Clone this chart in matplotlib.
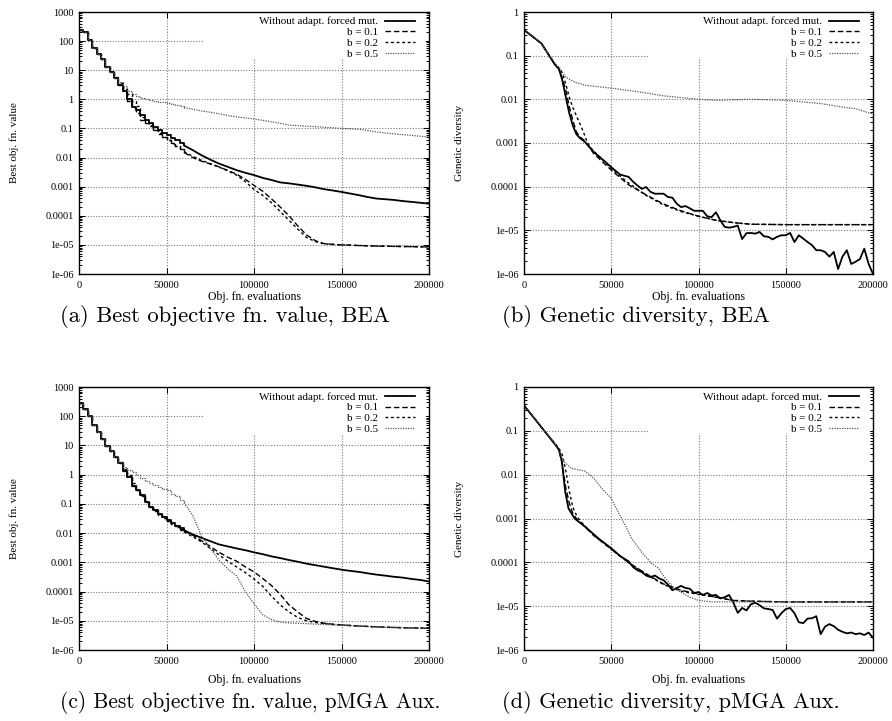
import matplotlib
matplotlib.use("Agg")
import matplotlib.pyplot as plt
from matplotlib.ticker import FixedLocator, FixedFormatter, LogLocator, NullFormatter
from matplotlib.patches import Rectangle

# ---------------- data ----------------
labels = ["Without adapt. forced mut.", "b = 0.1", "b = 0.2", "b = 0.5"]
x_ticks = [0, 50000, 100000, 150000, 200000]
x_ticklabels = ["0", "50000", "100000", "150000", "200000"]
obj_ticks = [1000, 100, 10, 1, 0.1, 0.01, 0.001, 0.0001, 1e-5, 1e-6]
obj_ticklabels = ["1000", "100", "10", "1", "0.1", "0.01", "0.001", "0.0001", "1e-05", "1e-06"]
div_ticks = [1, 0.1, 0.01, 0.001, 0.0001, 1e-5, 1e-6]
div_ticklabels = ["1", "0.1", "0.01", "0.001", "0.0001", "1e-05", "1e-06"]

x_obj = list(range(0, 60001, 2500)) + list(range(65000, 200001, 5000))

a_without = [250, 200, 110, 60, 35, 25, 13, 9, 5.5, 3.2,
             2.0, 1.0, 0.55, 0.42, 0.28, 0.2, 0.15, 0.11, 0.09, 0.07,
             0.058, 0.048, 0.04, 0.032, 0.026,
             0.018, 0.012, 0.0085, 0.0062, 0.0048, 0.0037, 0.003, 0.0025, 0.002, 0.0017,
             0.0014, 0.0013, 0.00118, 0.00107, 0.00095, 0.00082, 0.00074, 0.00066, 0.00058, 0.00051,
             0.00044, 0.00039, 0.00037, 0.00035, 0.00032, 0.0003, 0.00028, 0.00026]
a_b01 = [250, 200, 110, 60, 35, 25, 13, 9, 5.5, 3.2,
         1.8, 0.9, 0.5, 0.35, 0.2, 0.15, 0.12, 0.085, 0.065, 0.05,
         0.04, 0.03, 0.024, 0.019, 0.015,
         0.01, 0.0075, 0.006, 0.0048, 0.0036, 0.0027, 0.0018, 0.0011, 0.0007, 0.00038,
         0.0002, 0.0001, 4.5e-5, 2.2e-5, 1.4e-5, 1.1e-5, 1.05e-5, 1.0e-5, 9.8e-6, 9.5e-6,
         9.3e-6, 9.1e-6, 9e-6, 8.9e-6, 8.8e-6, 8.7e-6, 8.6e-6, 8.5e-6]
a_b02 = [250, 200, 110, 60, 35, 25, 13, 9, 6, 3.5,
         2.2, 1.5, 0.9, 0.6, 0.25, 0.17, 0.13, 0.09, 0.068, 0.052,
         0.041, 0.031, 0.025, 0.02, 0.016,
         0.011, 0.008, 0.0062, 0.0047, 0.0035, 0.0025, 0.0015, 0.0008, 0.0005, 0.00028,
         0.00014, 7e-5, 3.5e-5, 1.8e-5, 1.3e-5, 1.1e-5, 1.03e-5, 1.0e-5, 9.7e-6, 9.5e-6,
         9.3e-6, 9.1e-6, 9e-6, 8.9e-6, 8.8e-6, 8.7e-6, 8.6e-6, 8.5e-6]
a_b05 = [250, 200, 110, 60, 35, 25, 13, 9, 5.5, 4,
         2.8, 2.0, 1.5, 1.3, 1.15, 1.0, 0.93, 0.88, 0.83, 0.8,
         0.77, 0.7, 0.63, 0.57, 0.52,
         0.46, 0.4, 0.36, 0.32, 0.28, 0.25, 0.23, 0.21, 0.19, 0.17,
         0.15, 0.13, 0.125, 0.12, 0.115, 0.11, 0.105, 0.1, 0.097, 0.094,
         0.085, 0.076, 0.07, 0.065, 0.061, 0.058, 0.054, 0.051]

c_without = [280, 180, 100, 50, 30, 17, 9.5, 6.5, 4, 2.5,
             1.3, 0.8, 0.4, 0.3, 0.2, 0.12, 0.08, 0.06, 0.045, 0.035,
             0.028, 0.022, 0.018, 0.015, 0.0126,
             0.009, 0.0069, 0.0053, 0.0041, 0.0035, 0.003, 0.0026, 0.0022, 0.0019, 0.0016,
             0.0014, 0.0012, 0.00105, 0.0009, 0.0008, 0.00071, 0.00063, 0.00056, 0.00051, 0.00047,
             0.00042, 0.00038, 0.00035, 0.00032, 0.0003, 0.00027, 0.00025, 0.00022]
c_b01 = [280, 180, 100, 50, 30, 17, 9.5, 6.5, 4, 2.5,
         1.3, 0.8, 0.4, 0.3, 0.2, 0.12, 0.08, 0.06, 0.045, 0.034,
         0.027, 0.021, 0.017, 0.014, 0.012,
         0.0085, 0.0055, 0.0035, 0.0022, 0.0015, 0.0011, 0.0007, 0.00047, 0.00028, 0.00016,
         8e-5, 3.5e-5, 2e-5, 1.2e-5, 9.5e-6, 8.3e-6, 7.6e-6, 7.2e-6, 6.9e-6, 6.6e-6,
         6.4e-6, 6.2e-6, 6e-6, 5.9e-6, 5.8e-6, 5.7e-6, 5.6e-6, 5.5e-6]
c_b02 = [280, 180, 100, 50, 30, 17, 9.5, 6.5, 4, 2.8,
         1.6, 1.0, 0.5, 0.3, 0.19, 0.12, 0.08, 0.055, 0.042, 0.032,
         0.025, 0.02, 0.016, 0.013, 0.011,
         0.0075, 0.005, 0.003, 0.0018, 0.0011, 0.0007, 0.00045, 0.00027, 0.00015, 7e-5,
         3.5e-5, 2e-5, 1.3e-5, 1e-5, 8.8e-6, 8e-6, 7.5e-6, 7.2e-6, 6.9e-6, 6.6e-6,
         6.4e-6, 6.2e-6, 6e-6, 5.9e-6, 5.8e-6, 5.7e-6, 5.6e-6, 5.5e-6]
c_b05 = [280, 180, 100, 50, 30, 17, 9.5, 6.5, 4.2, 2.8,
         1.8, 1.45, 1.2, 0.95, 0.75, 0.6, 0.5, 0.45, 0.38, 0.33,
         0.3, 0.22, 0.18, 0.14, 0.11,
         0.04, 0.008, 0.003, 0.0012, 0.0006, 0.00035, 0.0001, 3.8e-5, 1.6e-5, 1.1e-5,
         9e-6, 8.5e-6, 8.2e-6, 8e-6, 7.7e-6, 7.5e-6, 7.2e-6, 7e-6, 6.8e-6, 6.6e-6,
         6.4e-6, 6.2e-6, 6e-6, 5.9e-6, 5.8e-6, 5.7e-6, 5.6e-6, 5.5e-6]

# (b) genetic diversity, BEA
x_b_without = ([0, 10000, 18000, 20000, 22000, 24000, 26000, 28000, 30000, 32000,
                35000, 40000, 45000, 50000, 55000] + list(range(60000, 200001, 2500)))
b_without = [0.39, 0.19, 0.060, 0.050, 0.027, 0.011, 0.0047, 0.0025, 0.0016, 0.0013,
             0.00105, 0.00062, 0.00042, 0.00028, 0.00019,
             0.000167, 0.00013, 0.000107, 8.9e-5, 9.8e-5, 7.6e-5, 6.9e-5, 6.9e-5, 6.9e-5, 5.8e-5,
             5.6e-5, 4.1e-5, 3.4e-5, 3.6e-5, 3.2e-5, 2.8e-5, 2.8e-5, 2.8e-5, 2.1e-5, 2.0e-5,
             2.6e-5, 1.7e-5, 1.2e-5, 1.15e-5, 1.2e-5, 1.29e-5, 6.3e-6, 8.6e-6, 8.7e-6, 8.4e-6,
             9.2e-6, 7.3e-6, 7.1e-6, 6.2e-6, 7.1e-6, 7.7e-6, 7.7e-6, 8.7e-6, 5.4e-6, 7.7e-6,
             6.5e-6, 5.4e-6, 4.6e-6, 3.5e-6, 3.5e-6, 3.2e-6, 2.5e-6, 3.2e-6, 1.3e-6, 2.5e-6,
             3.5e-6, 1.7e-6, 1.9e-6, 2.2e-6, 3.8e-6, 1.7e-6, 1.0e-6]
x_b_b01 = [0, 10000, 18000, 20000, 22000, 24000, 26000, 28000, 30000, 32000, 35000, 40000,
           50000, 60000, 70000, 80000, 90000, 100000, 110000, 120000, 130000, 150000, 200000]
b_b01 = [0.39, 0.19, 0.060, 0.050, 0.03, 0.016, 0.0067, 0.0033, 0.0018, 0.0014, 0.0011, 0.00057,
         0.00024, 0.00011, 6.5e-5, 4.0e-5, 2.8e-5, 2.1e-5, 1.7e-5, 1.5e-5, 1.38e-5, 1.35e-5, 1.35e-5]
x_b_b02 = [0, 10000, 18000, 20000, 22000, 24000, 26000, 28000, 30000, 32000, 34000, 36000,
           38000, 40000, 45000, 50000, 60000, 70000, 80000, 90000, 100000, 110000, 120000,
           130000, 150000, 200000]
b_b02 = [0.39, 0.19, 0.060, 0.052, 0.04, 0.022, 0.011, 0.0065, 0.0042, 0.0028, 0.0018, 0.0011,
         0.0008, 0.00065, 0.00042, 0.00026, 0.00012, 6.3e-5, 3.8e-5, 2.7e-5, 2.1e-5, 1.7e-5, 1.5e-5,
         1.38e-5, 1.35e-5, 1.35e-5]
x_b_b05 = [0, 10000, 18000, 20000, 24000, 28000, 30000, 35000, 40000, 50000, 60000, 70000,
           80000, 90000, 100000, 110000, 120000, 130000, 140000, 150000, 160000, 170000, 180000,
           190000, 200000]
b_b05 = [0.39, 0.19, 0.065, 0.055, 0.032, 0.026, 0.024, 0.021, 0.020, 0.018, 0.016, 0.014,
         0.012, 0.011, 0.010, 0.0095, 0.0098, 0.010, 0.0098, 0.0095, 0.0087, 0.0080, 0.0069,
         0.0061, 0.0046]

# (d) genetic diversity, pMGA Aux.
x_d_without = ([0, 12000, 18000, 20000, 21700, 23600, 25500, 29000, 35000, 42700, 50000,
                55000] + list(range(60000, 200001, 2500)))
d_without = [0.38, 0.096, 0.048, 0.037, 0.02, 0.0041, 0.0017, 0.001, 0.00065, 0.00035, 0.00021,
             0.00014,
             0.000105, 7.8e-5, 6.6e-5, 6.0e-5, 5.0e-5, 4.6e-5, 5.0e-5, 4.3e-5, 3.9e-5, 3.1e-5,
             2.3e-5, 2.6e-5, 2.9e-5, 2.6e-5, 2.5e-5, 2.0e-5, 2.1e-5, 1.8e-5, 2.0e-5, 1.75e-5,
             1.8e-5, 1.5e-5, 1.6e-5, 1.8e-5, 1.2e-5, 7e-6, 9.1e-6, 8e-6, 1.1e-5, 1.2e-5,
             1.05e-5, 8.9e-6, 8.6e-6, 8.2e-6, 5.2e-6, 6.9e-6, 8.6e-6, 9.1e-6, 6.9e-6, 4.3e-6,
             4.1e-6, 5.2e-6, 5.3e-6, 5.9e-6, 2.3e-6, 3.4e-6, 3.9e-6, 3.5e-6, 2.9e-6, 2.6e-6,
             2.4e-6, 2.5e-6, 2.3e-6, 2.4e-6, 2.2e-6, 2.5e-6, 1.9e-6]
x_d_b01 = [0, 12000, 18000, 20000, 22000, 24000, 26000, 28000, 30000, 40000, 50000, 60000,
           70000, 80000, 90000, 100000, 110000, 120000, 130000, 150000, 200000]
d_b01 = [0.38, 0.096, 0.048, 0.038, 0.017, 0.0049, 0.0022, 0.0013, 0.001, 0.00041, 0.0002,
         9.8e-5, 5.5e-5, 3.2e-5, 2.3e-5, 1.9e-5, 1.6e-5, 1.35e-5, 1.3e-5, 1.25e-5, 1.25e-5]
x_d_b02 = [0, 12000, 18000, 20000, 22000, 24000, 26000, 28000, 30000, 32000, 40000, 50000,
           60000, 70000, 80000, 90000, 100000, 110000, 120000, 130000, 150000, 200000]
d_b02 = [0.38, 0.096, 0.05, 0.04, 0.028, 0.012, 0.0041, 0.0018, 0.0012, 0.0009, 0.00041,
         0.0002, 9.8e-5, 5.3e-5, 3.1e-5, 2.2e-5, 1.85e-5, 1.6e-5, 1.35e-5, 1.3e-5, 1.25e-5, 1.25e-5]
x_d_b05 = [0, 12000, 18000, 20000, 22800, 27000, 35000, 40000, 44500, 50000, 54000, 58000,
           61700, 67500, 73000, 77000, 81000, 84500, 88000, 95000, 100000, 107500, 200000]
d_b05 = [0.38, 0.096, 0.05, 0.034, 0.02, 0.014, 0.012, 0.0083, 0.0049, 0.0029, 0.0014, 0.0007,
         0.00035, 0.00017, 9.5e-5, 7.4e-5, 4.3e-5, 3.0e-5, 2.3e-5, 1.6e-5, 1.35e-5, 1.25e-5,
         1.25e-5]

captions = ["(a) Best objective fn. value, BEA", "(b) Genetic diversity, BEA",
            "(c) Best objective fn. value, pMGA Aux.", "(d) Genetic diversity, pMGA Aux."]

# ---------------- style ----------------
SERIF = ["Liberation Serif", "DejaVu Serif"]
plt.rcParams["font.family"] = SERIF
W, H = 892, 721
fig = plt.figure(figsize=(W / 100, H / 100), dpi=100)

styles = [
    dict(color="black", lw=1.3, linestyle="-"),
    dict(color="black", lw=1.0, linestyle=(0, (4, 2))),
    dict(color="black", lw=1.0, linestyle=(0, (2, 2))),
    dict(color="#555555", lw=0.9, linestyle=(0, (1, 1))),
]

STEP_END = 25  # index of x = 60000 in x_obj; staircase drawn up to here


def make_axes(left_px, top_px, right_px, bottom_px):
    return fig.add_axes([left_px / W, 1 - bottom_px / H,
                         (right_px - left_px) / W, (bottom_px - top_px) / H])


def setup(ax, yticks, yticklabels, ylabel, xlabel_y):
    ax.set_yscale("log")
    ax.set_xlim(0, 200000)
    ax.set_ylim(yticks[-1], yticks[0])
    ax.yaxis.set_major_locator(FixedLocator(yticks))
    ax.yaxis.set_major_formatter(FixedFormatter(yticklabels))
    ax.yaxis.set_minor_locator(LogLocator(base=10, subs=[2, 3, 4, 5, 6, 7, 8, 9], numticks=20))
    ax.yaxis.set_minor_formatter(NullFormatter())
    ax.xaxis.set_major_locator(FixedLocator(x_ticks))
    ax.xaxis.set_major_formatter(FixedFormatter(x_ticklabels))
    ax.tick_params(which="both", direction="in", top=True, right=True, labelsize=7.5,
                   width=0.7)
    ax.tick_params(which="major", length=4, pad=4)
    ax.tick_params(which="minor", length=2)
    ax.tick_params(axis="x", pad=5)
    ax.set_axisbelow(True)
    ax.grid(True, which="major", color="#777777", lw=0.8, linestyle=(0, (1, 1.5)))
    for s in ax.spines.values():
        s.set_linewidth(1.0)
    ax.set_xlabel("Obj. fn. evaluations", fontsize=8.5)
    ax.xaxis.set_label_coords(0.5, xlabel_y)
    ax.set_ylabel(ylabel, fontsize=8)
    ax.yaxis.set_label_coords(-0.172, 0.5)
    ax.add_patch(Rectangle((0.354, 0.82), 0.636, 0.18, transform=ax.transAxes,
                           facecolor="white", edgecolor="none", zorder=1))


def legend(ax):
    ax.legend(loc="upper right", bbox_to_anchor=(0.96, 0.982), frameon=False,
              markerfirst=False, fontsize=8, handlelength=2.7, handletextpad=0.6,
              labelspacing=0.1, borderpad=0, borderaxespad=0)


panels = [
    (79, 12, 429, 274), (524, 12, 873, 274),
    (79, 387, 429, 650), (524, 387, 873, 650),
]
xlabel_y = [-0.066, -0.066, -0.093, -0.093]

obj_series = [[a_without, a_b01, a_b02, a_b05], [c_without, c_b01, c_b02, c_b05]]
div_series = [
    [(x_b_without, b_without), (x_b_b01, b_b01), (x_b_b02, b_b02), (x_b_b05, b_b05)],
    [(x_d_without, d_without), (x_d_b01, d_b01), (x_d_b02, d_b02), (x_d_b05, d_b05)],
]

for row in range(2):
    ax = make_axes(*panels[2 * row])
    setup(ax, obj_ticks, obj_ticklabels, "Best obj. fn. value", xlabel_y[2 * row])
    for ys, st, lab in zip(obj_series[row], styles, labels):
        # early staircase part, then smooth continuation
        ax.plot(x_obj[:STEP_END], ys[:STEP_END], drawstyle="steps-post", zorder=2, **st)
        ax.plot(x_obj[STEP_END - 1:], ys[STEP_END - 1:], label=lab, zorder=2, **st)
    legend(ax)

    ax = make_axes(*panels[2 * row + 1])
    setup(ax, div_ticks, div_ticklabels, "Genetic diversity", xlabel_y[2 * row + 1])
    for (xs, ys), st, lab in zip(div_series[row], styles, labels):
        ax.plot(xs, ys, label=lab, zorder=2, **st)
    legend(ax)

cap_pos = [(60, 316), (502, 316), (60, 703), (502, 703)]
cap_size = [16.3, 16.3, 15.3, 16.0]
for (cx, cy), txt, fs in zip(cap_pos, captions, cap_size):
    fig.text(cx / W, 1 - cy / H, txt, fontsize=fs, family="cmr10", ha="left", va="center")

fig.savefig("out.png", dpi=100)
